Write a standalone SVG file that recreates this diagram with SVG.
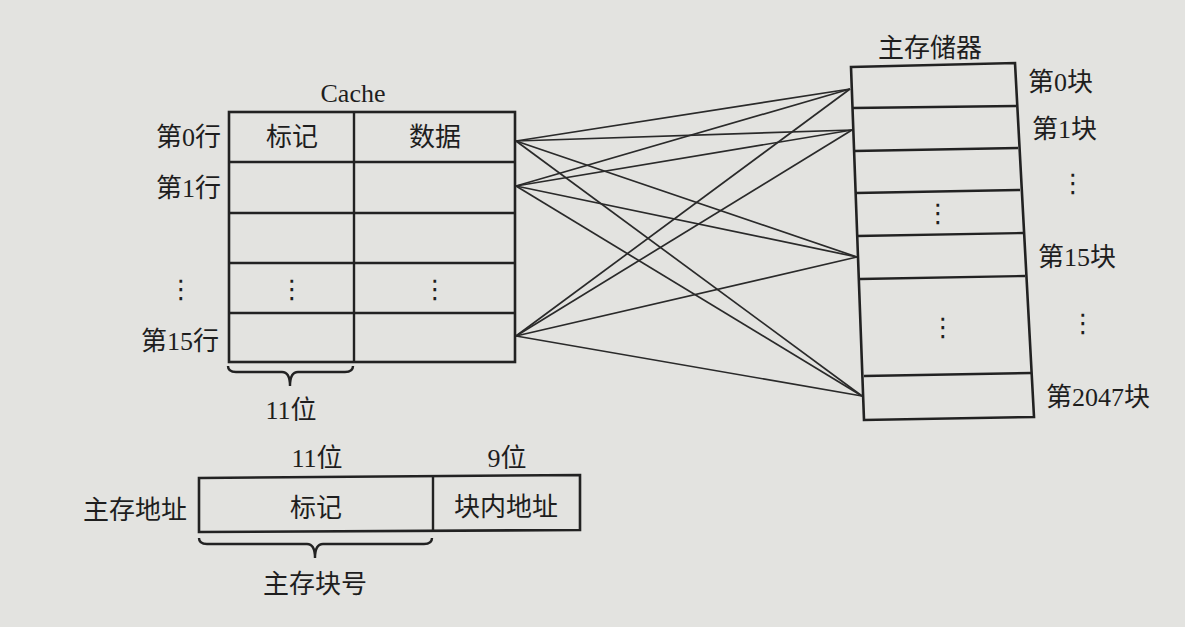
<svg xmlns="http://www.w3.org/2000/svg" width="1185" height="627" viewBox="0 0 1185 627">
<style>
.bg{fill:#e3e3e0}
.box{fill:none;stroke:#222;stroke-width:2.6;stroke-linejoin:miter}
.ln{fill:none;stroke:#222;stroke-width:2.4}
.cn{fill:none;stroke:#2a2a2a;stroke-width:1.7}
.t{font-family:"Liberation Serif","Noto Sans CJK SC",serif;font-size:26px;fill:#1e1e1e}
.m{text-anchor:middle}
.e{text-anchor:end}
.d{font-family:"DejaVu Sans",sans-serif;font-size:26px;fill:#1e1e1e;text-anchor:middle}
</style>
<rect class="bg" x="0" y="0" width="1185" height="627"/>

<g id="cache">
  <text class="t m" x="353" y="102">Cache</text>
  <rect class="box" x="229" y="112" width="286" height="250"/>
  <line class="ln" x1="354" y1="112" x2="354" y2="362"/>
  <line class="ln" x1="229" y1="162" x2="515" y2="162"/>
  <line class="ln" x1="229" y1="213" x2="515" y2="213"/>
  <line class="ln" x1="229" y1="263" x2="515" y2="263"/>
  <line class="ln" x1="229" y1="313" x2="515" y2="313"/>
  <text class="t m" x="292" y="146">标记</text>
  <text class="t m" x="435" y="146">数据</text>
  <text class="d" x="292" y="298">⋮</text>
  <text class="d" x="435" y="298">⋮</text>
</g>

<g id="cache-row-labels">
  <text class="t e" x="221" y="146">第0行</text>
  <text class="t e" x="221" y="197">第1行</text>
  <text class="d" x="181" y="298">⋮</text>
  <text class="t e" x="219" y="350">第15行</text>
</g>

<g id="cache-tag-width">
  <path class="ln" d="M228,366 Q228,372 236,372 L282,372 Q290,372 290,386 Q290,372 298,372 L345,372 Q353,372 353,366" stroke-width="1.8"/>
  <text class="t m" x="291" y="419">11位</text>
</g>

<g id="main-memory">
  <text class="t m" x="930" y="57">主存储器</text>
  <polygon class="box" points="851,67 1015,63 1034,417 864,420"/>
  <line class="ln" x1="852" y1="108" x2="1016" y2="106"/>
  <line class="ln" x1="854" y1="151" x2="1018" y2="148"/>
  <line class="ln" x1="856" y1="193" x2="1020" y2="190"/>
  <line class="ln" x1="857" y1="236" x2="1023" y2="233"/>
  <line class="ln" x1="860" y1="279" x2="1025" y2="276"/>
  <line class="ln" x1="864" y1="376" x2="1031" y2="373"/>
  <text class="d" x="938" y="222">⋮</text>
  <text class="d" x="943" y="336">⋮</text>
</g>

<g id="memory-block-labels">
  <text class="t" x="1028" y="91">第0块</text>
  <text class="t" x="1032" y="138">第1块</text>
  <text class="d" x="1073" y="192">⋮</text>
  <text class="t" x="1038" y="266">第15块</text>
  <text class="d" x="1083" y="332">⋮</text>
  <text class="t" x="1046" y="406">第2047块</text>
</g>

<g id="connectors">
  <line class="cn" x1="516" y1="141" x2="850" y2="89"/>
  <line class="cn" x1="516" y1="141" x2="852" y2="130"/>
  <line class="cn" x1="516" y1="141" x2="857" y2="257"/>
  <line class="cn" x1="516" y1="141" x2="862" y2="396"/>
  <line class="cn" x1="516" y1="186" x2="850" y2="89"/>
  <line class="cn" x1="516" y1="186" x2="852" y2="130"/>
  <line class="cn" x1="516" y1="186" x2="857" y2="257"/>
  <line class="cn" x1="516" y1="186" x2="862" y2="396"/>
  <line class="cn" x1="516" y1="336" x2="850" y2="89"/>
  <line class="cn" x1="516" y1="336" x2="852" y2="130"/>
  <line class="cn" x1="516" y1="336" x2="857" y2="257"/>
  <line class="cn" x1="516" y1="336" x2="862" y2="396"/>
</g>

<g id="address-format">
  <text class="t e" x="187" y="519">主存地址</text>
  <text class="t m" x="317" y="467">11位</text>
  <text class="t m" x="507" y="467">9位</text>
  <polygon class="box" points="199,478 580,475 580,530 199,532"/>
  <line class="ln" x1="433" y1="477" x2="433" y2="531"/>
  <text class="t m" x="316" y="517">标记</text>
  <text class="t m" x="506" y="516">块内地址</text>
</g>

<g id="block-number-brace">
  <path class="ln" d="M199,538 Q199,544 207,544 L307,544 Q315,544 315,558 Q315,544 323,544 L424,544 Q432,544 432,538" stroke-width="1.8"/>
  <text class="t m" x="315" y="593">主存块号</text>
</g>
</svg>
